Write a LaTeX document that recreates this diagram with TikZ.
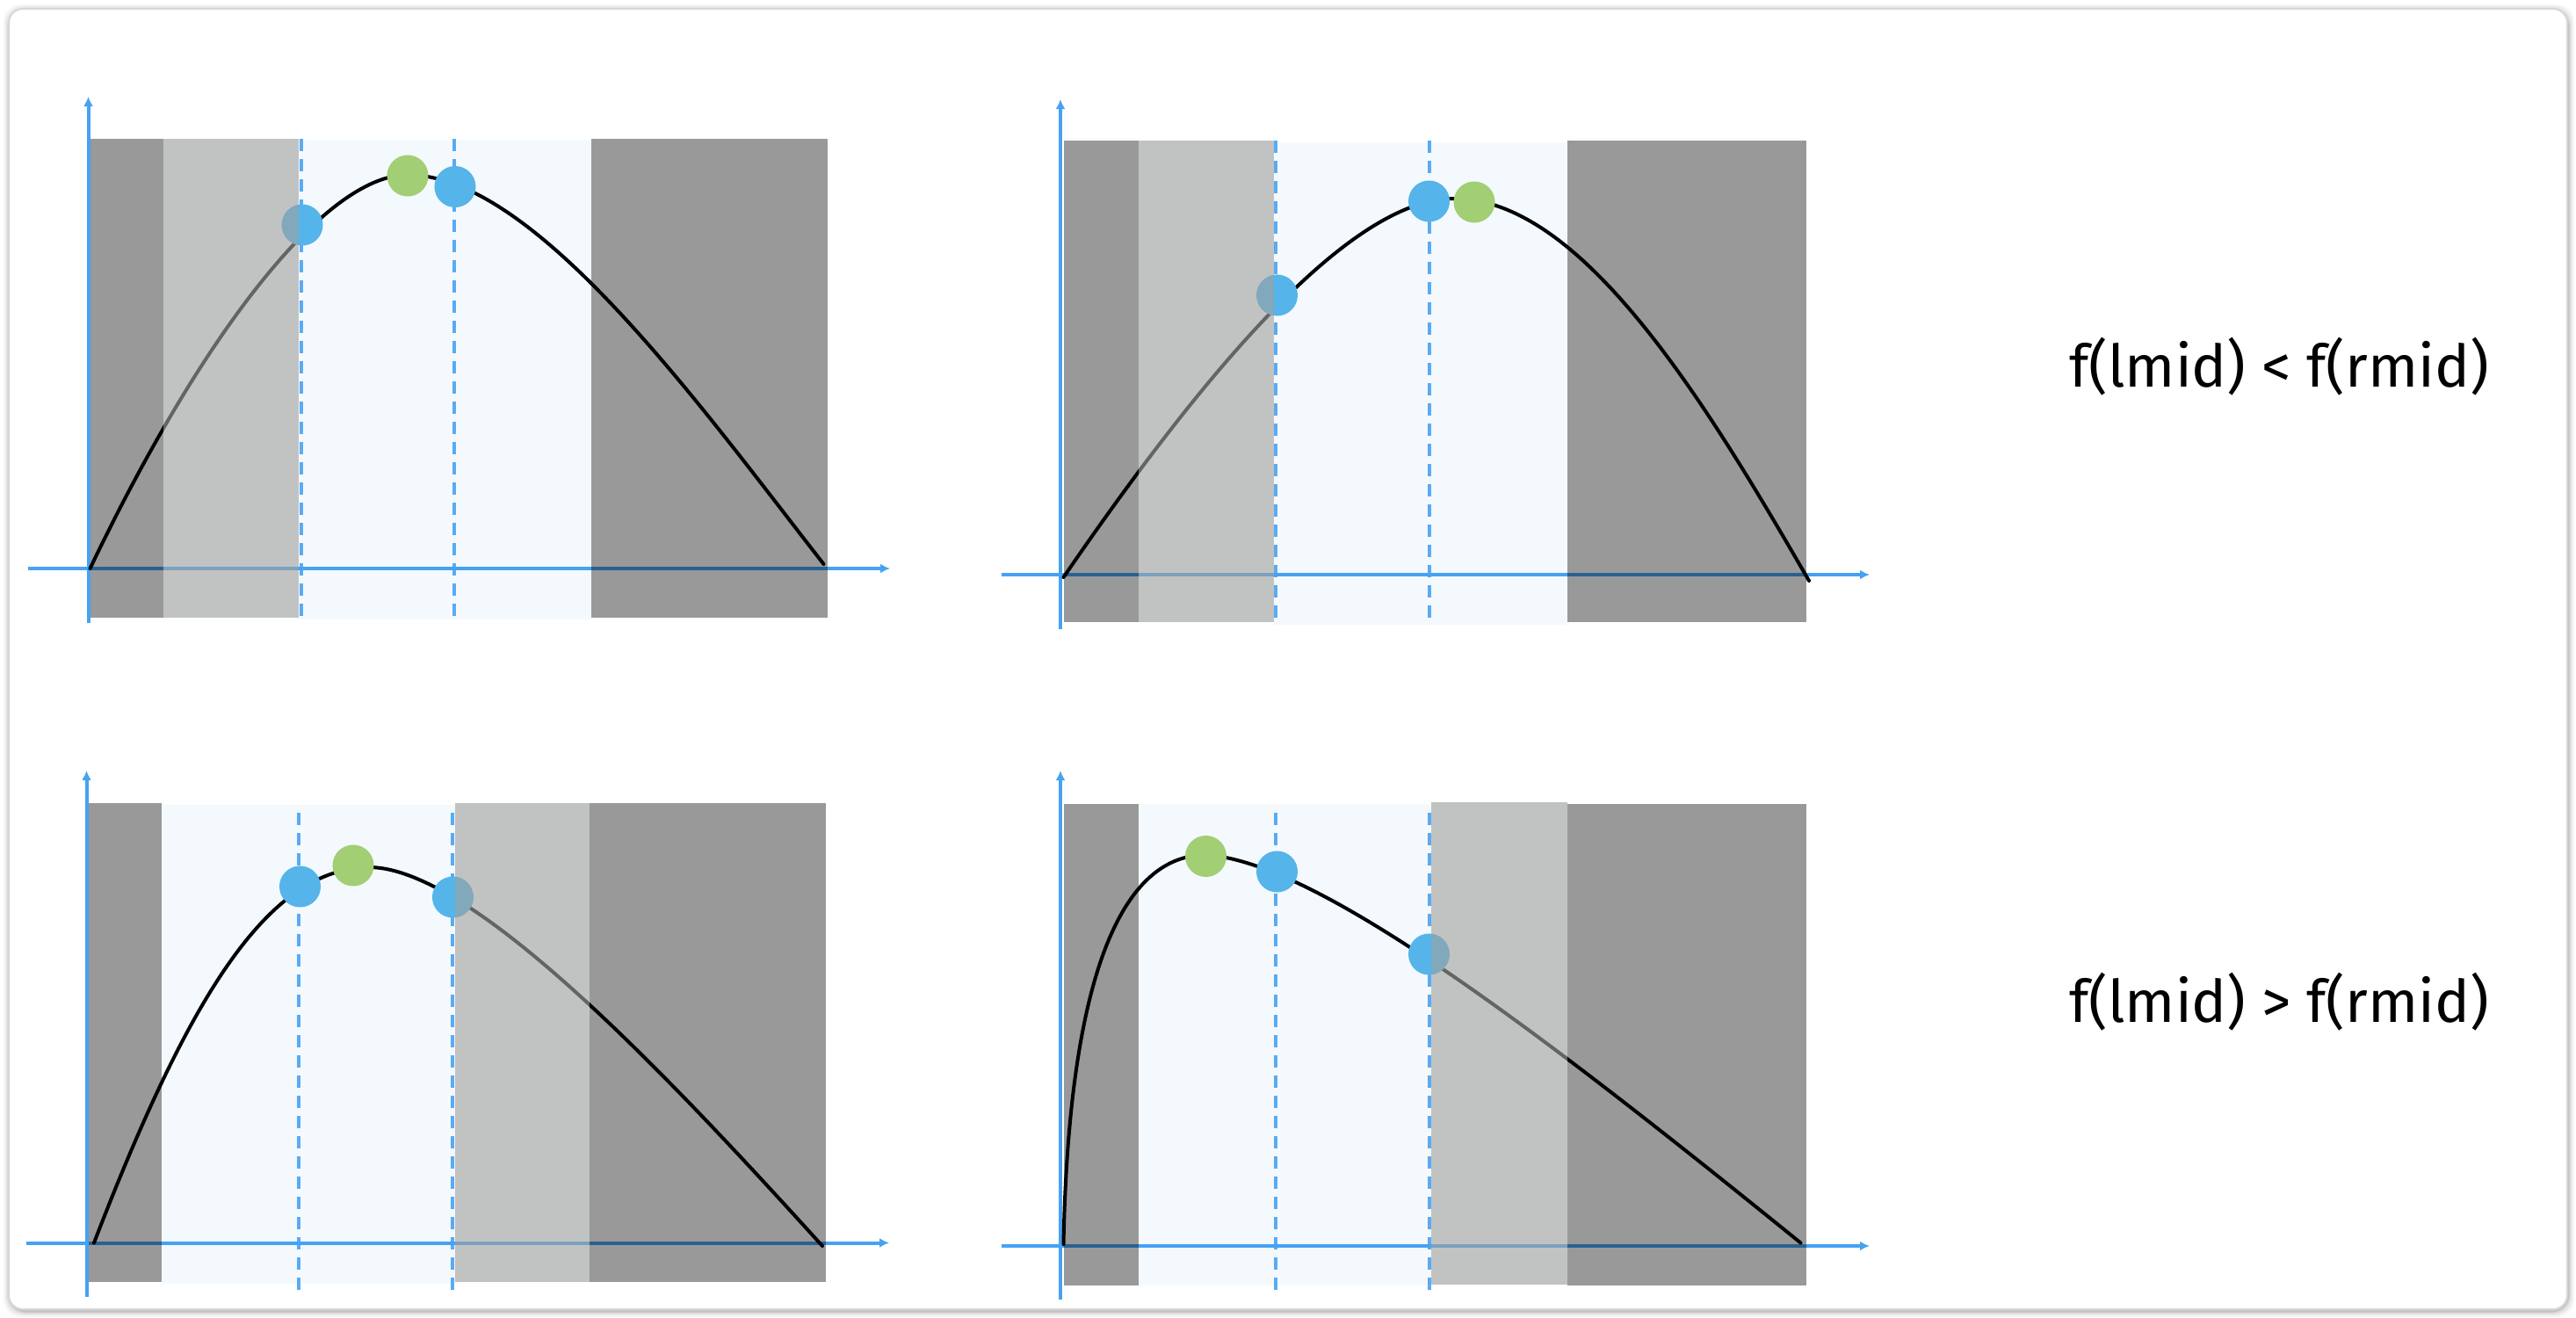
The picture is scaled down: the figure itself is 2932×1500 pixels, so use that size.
\documentclass[tikz,border=0pt]{standalone}
\usepackage{fontspec}
\setmainfont{Fira Sans}
\usetikzlibrary{arrows.meta}
\definecolor{axisblue}{RGB}{70,162,242}
\definecolor{dotblue}{RGB}{85,180,234}
\definecolor{dotgreen}{RGB}{162,206,116}
\definecolor{paleblue}{RGB}{244,249,254}
\definecolor{veilgray}{RGB}{157,161,161}
\definecolor{framegray}{RGB}{215,215,215}
\tikzset{
  axisline/.style={draw=axisblue, line width=0.04cm, -{Latex[length=0.11cm,width=0.11cm]}},
  midline/.style={draw=axisblue!90, line width=0.04cm, dash pattern=on 0.14cm off 0.09cm},
  fcurve/.style={draw=black, line width=0.04cm, line cap=round},
  bluedot/.style={circle, fill=dotblue, minimum size=0.47cm, inner sep=0pt},
  greendot/.style={circle, fill=dotgreen, minimum size=0.47cm, inner sep=0pt},
  palezone/.style={fill=paleblue},
  darkzone/.style={fill=black, fill opacity=0.4},
  lightzone/.style={fill=veilgray, fill opacity=0.63},
  caption/.style={font=\fontsize{19}{23}\selectfont, anchor=base, inner sep=0pt}
}
\begin{document}
\begin{tikzpicture}[x=0.01cm, y=-0.01cm]
\useasboundingbox (0,0) rectangle (2932,1500);
% frame with soft shadow
\foreach \o/\a in {7/0.03,5/0.05,3/0.07,1.5/0.1}{
  \fill[black, opacity=\a, rounded corners=0.2cm] (10-\o+1,10-\o+2) rectangle (2922+\o+1,1490+\o+2);
}
\draw[framegray, fill=white, line width=0.02cm, rounded corners=0.16cm] (10,10) rectangle (2922,1490);

% ================= panel 1 (top left) =================
\fill[palezone] (340,159) rectangle (673,705);
\draw[midline] (342.5,158) -- (342.5,702);
\draw[midline] (516.5,158) -- (516.5,702);
\coordinate (a1y0) at (100.5,709); \coordinate (a1y1) at (100.5,110);
\coordinate (a1x0) at (32,647);    \coordinate (a1x1) at (1013,647);
\draw[axisline] (a1y0) -- (a1y1);
\draw[axisline] (a1x0) -- (a1x1);
\coordinate (c1s) at (102.5,647); \coordinate (c1p) at (464,199); \coordinate (c1e) at (937.5,642);
\draw[fcurve] (c1s) .. controls (230,380) and (370,199) .. (c1p)
                    .. controls (610,199) and (800,466) .. (c1e);
\node[bluedot]  (p1a) at (344,256) {};
\node[greendot] (p1m) at (464,200) {};
\node[bluedot]  (p1b) at (518,212.5) {};
\fill[darkzone] (102.5,158) rectangle (186,702.5);
\fill[lightzone] (186,158) rectangle (340,702.5);
\fill[darkzone] (673,158) rectangle (942,702.5);

% ================= panel 2 (top right) =================
\fill[palezone] (1450,162) rectangle (1784,711);
\draw[midline] (1452,160) -- (1452,708);
\draw[midline] (1627,160) -- (1627,708);
\coordinate (a2y0) at (1207,716); \coordinate (a2y1) at (1207,113);
\coordinate (a2x0) at (1140,654); \coordinate (a2x1) at (2128,654);
\draw[axisline] (a2y0) -- (a2y1);
\draw[axisline] (a2x0) -- (a2x1);
\coordinate (c2s) at (1210.5,657); \coordinate (c2p) at (1655,226); \coordinate (c2e) at (2059,661);
\draw[fcurve] (c2s) .. controls (1400,380) and (1550,226) .. (c2p)
                    .. controls (1800,226) and (1940,455) .. (c2e);
\node[bluedot]  (p2a) at (1453.5,336) {};
\node[bluedot]  (p2b) at (1626.5,229) {};
\node[greendot] (p2m) at (1678,230) {};
\fill[darkzone] (1210.5,160) rectangle (1295.5,708);
\fill[lightzone] (1295.5,160) rectangle (1449.6,708);
\fill[darkzone] (1784.4,160) rectangle (2055.6,708);

% ================= panel 3 (bottom left) =================
\fill[palezone] (184,916) rectangle (519,1461);
\draw[midline] (340,925) -- (340,1470);
\draw[midline] (514.5,925) -- (514.5,1470);
\coordinate (a3y0) at (98.5,1476); \coordinate (a3y1) at (98.5,877);
\coordinate (a3x0) at (30,1414.5); \coordinate (a3x1) at (1012,1414.5);
\draw[axisline] (a3y0) -- (a3y1);
\draw[axisline] (a3x0) -- (a3x1);
\coordinate (c3s) at (107,1414.5); \coordinate (c3p) at (422,987); \coordinate (c3e) at (936,1418);
\draw[fcurve] (c3s) .. controls (220,1120) and (310,987) .. (c3p)
                    .. controls (540,990) and (760,1224) .. (c3e);
\node[bluedot]  (p3a) at (341.5,1009) {};
\node[greendot] (p3m) at (402,985) {};
\node[bluedot]  (p3b) at (515.5,1021) {};
\fill[darkzone] (100.5,914) rectangle (184,1458.5);
\fill[lightzone] (518,914) rectangle (671,1458.5);
\fill[darkzone] (671,914) rectangle (939.5,1458.5);

% ================= panel 4 (bottom right) =================
\fill[palezone] (1295.5,915) rectangle (1629,1462.5);
\draw[midline] (1452,925) -- (1452,1470);
\draw[midline] (1627,925) -- (1627,1470);
\coordinate (a4y0) at (1207,1479); \coordinate (a4y1) at (1207,877);
\coordinate (a4x0) at (1140,1418); \coordinate (a4x1) at (2128,1418);
\draw[axisline] (a4y0) -- (a4y1);
\draw[axisline] (a4x0) -- (a4x1);
\coordinate (c4s) at (1210.5,1416); \coordinate (c4p) at (1372.5,973); \coordinate (c4e) at (2049.5,1414.5);
\draw[fcurve] (c4s) .. controls (1216,1130) and (1270,973) .. (c4p)
                    .. controls (1500,980) and (1760,1180) .. (c4e);
\node[greendot] (p4m) at (1372.5,974.5) {};
\node[bluedot]  (p4a) at (1453.5,992) {};
\node[bluedot]  (p4b) at (1626.5,1086) {};
\fill[darkzone] (1210.5,915) rectangle (1295.5,1462.5);
\fill[lightzone] (1629,913) rectangle (1784.4,1462);
\fill[darkzone] (1784.4,915) rectangle (2055.6,1462.5);

% ================= captions =================
\node[caption] (lt) at (2594,440.5) {f(lmid) < f(rmid)};
\node[caption] (gt) at (2594,1163.5) {f(lmid) > f(rmid)};
\end{tikzpicture}
\end{document}
